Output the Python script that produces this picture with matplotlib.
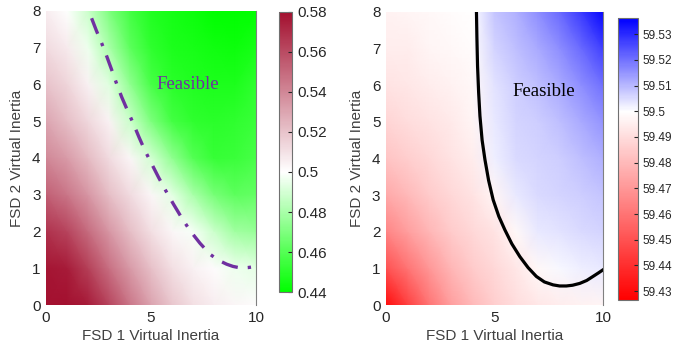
import numpy as np
import matplotlib
matplotlib.use("Agg")
import matplotlib.pyplot as plt
from matplotlib.colors import LinearSegmentedColormap

plt.rcParams['font.family'] = ['Liberation Sans', 'DejaVu Sans']

# grid of the two parameter sweeps
fsd1 = [0, 1, 2, 3, 4, 5, 6, 7, 8, 9, 10]
fsd2 = [0, 1, 2, 3, 4, 5, 6, 7, 8]

# left map: one column per FSD 1 value, rows = FSD 2 from 0 to 8
left_cols = [
    [0.580, 0.578, 0.568, 0.553, 0.540, 0.530, 0.520, 0.512, 0.506],
    [0.580, 0.576, 0.562, 0.546, 0.533, 0.522, 0.514, 0.507, 0.500],
    [0.576, 0.564, 0.549, 0.535, 0.523, 0.513, 0.505, 0.496, 0.488],
    [0.562, 0.548, 0.535, 0.522, 0.512, 0.504, 0.493, 0.480, 0.470],
    [0.546, 0.534, 0.522, 0.512, 0.503, 0.488, 0.474, 0.462, 0.456],
    [0.531, 0.521, 0.511, 0.503, 0.490, 0.470, 0.457, 0.451, 0.448],
    [0.519, 0.511, 0.503, 0.494, 0.474, 0.456, 0.450, 0.447, 0.445],
    [0.511, 0.505, 0.498, 0.480, 0.460, 0.451, 0.448, 0.446, 0.443],
    [0.506, 0.501, 0.488, 0.468, 0.453, 0.450, 0.447, 0.444, 0.440],
    [0.503, 0.496, 0.478, 0.462, 0.454, 0.451, 0.447, 0.443, 0.440],
    [0.501, 0.494, 0.476, 0.464, 0.457, 0.454, 0.451, 0.446, 0.441],
]

# right map (frequency nadir, Hz)
right_cols = [
    [59.430, 59.450, 59.465, 59.475, 59.483, 59.488, 59.492, 59.495, 59.496],
    [59.445, 59.460, 59.472, 59.480, 59.486, 59.490, 59.493, 59.495, 59.497],
    [59.460, 59.470, 59.479, 59.485, 59.489, 59.492, 59.495, 59.497, 59.498],
    [59.472, 59.479, 59.485, 59.489, 59.492, 59.494, 59.496, 59.498, 59.499],
    [59.480, 59.485, 59.489, 59.492, 59.495, 59.497, 59.498, 59.499, 59.500],
    [59.486, 59.489, 59.492, 59.497, 59.502, 59.503, 59.504, 59.506, 59.508],
    [59.490, 59.493, 59.498, 59.503, 59.505, 59.506, 59.507, 59.509, 59.511],
    [59.493, 59.498, 59.503, 59.505, 59.506, 59.507, 59.509, 59.512, 59.516],
    [59.495, 59.501, 59.504, 59.506, 59.507, 59.509, 59.512, 59.516, 59.521],
    [59.496, 59.502, 59.505, 59.507, 59.509, 59.512, 59.516, 59.521, 59.528],
    [59.497, 59.503, 59.506, 59.508, 59.511, 59.515, 59.520, 59.527, 59.535],
]

# feasibility boundaries
left_bx = [2.17, 2.40, 2.65, 2.90, 3.13, 3.36, 3.60, 3.88, 4.16, 4.43, 4.71, 5.03, 5.35,
           5.70, 6.06, 6.45, 6.86, 7.33, 7.81, 8.20, 8.60, 8.90, 9.16, 9.40, 9.63, 10.0]
left_by = [7.80, 7.46, 7.12, 6.75, 6.39, 6.02, 5.66, 5.29, 4.93, 4.56, 4.20, 3.84, 3.48,
           3.11, 2.75, 2.38, 2.02, 1.68, 1.38, 1.22, 1.11, 1.05, 1.02, 1.01, 1.02, 1.05]
right_bx = [4.17, 4.19, 4.22, 4.27, 4.33, 4.43, 4.56, 4.73, 4.94, 5.20, 5.48, 5.80, 6.17,
            6.55, 6.93, 7.30, 7.70, 8.00, 8.31, 8.60, 8.93, 9.25, 9.54, 9.80, 10.0]
right_by = [7.98, 7.30, 6.52, 5.80, 5.16, 4.50, 3.97, 3.40, 2.87, 2.42, 2.05, 1.67, 1.32,
            1.02, 0.78, 0.63, 0.55, 0.52, 0.52, 0.54, 0.59, 0.67, 0.78, 0.88, 0.96]

left_ticks = [0.44, 0.46, 0.48, 0.5, 0.52, 0.54, 0.56, 0.58]
right_ticks = [59.43, 59.44, 59.45, 59.46, 59.47, 59.48, 59.49, 59.5, 59.51, 59.52, 59.53]

lmin, lmax = 0.44, 0.58
rmin, rmax = 59.4265, 59.5362
cmap_l = LinearSegmentedColormap.from_list(
    'gw', [(0, '#00ff00'), ((0.5 - lmin) / (lmax - lmin), '#ffffff'), (1, '#a3102f')])
cmap_r = LinearSegmentedColormap.from_list(
    'rwb', [(0, '#ff0000'), ((59.5 - rmin) / (rmax - rmin), '#ffffff'), (1, '#0000ff')])

fig = plt.figure(figsize=(6.91, 3.51), dpi=100)
ax1 = fig.add_axes([0.0666, 0.131, 0.304, 0.838])
cax1 = fig.add_axes([0.4038, 0.168, 0.0188, 0.798])
ax2 = fig.add_axes([0.5586, 0.131, 0.314, 0.835])
cax2 = fig.add_axes([0.8944, 0.145, 0.029, 0.803])

tick_col = '#262626'
lab_col = '#404040'

m1 = ax1.pcolormesh(fsd1, fsd2, np.array(left_cols).T, shading='gouraud',
                    cmap=cmap_l, vmin=lmin, vmax=lmax)
ax1.plot(left_bx, left_by, color='#7030a0', lw=2.4, ls=(0, (5, 3, 1, 3)),
         solid_capstyle='round')
ax1.text(6.76, 6.0, 'Feasible', family='Liberation Serif', fontsize=13.5,
         color='#7030a0', ha='center', va='center')

m2 = ax2.pcolormesh(fsd1, fsd2, np.array(right_cols).T, shading='gouraud',
                    cmap=cmap_r, vmin=rmin, vmax=rmax)
ax2.plot(right_bx, right_by, color='black', lw=2.3, solid_joinstyle='round')
ax2.text(7.28, 5.82, 'Feasible', family='Liberation Serif', fontsize=13.5,
         color='black', ha='center', va='center')

for ax in (ax1, ax2):
    ax.set_xlim(0, 10)
    ax.set_ylim(0, 8)
    ax.set_xticks([0, 5, 10])
    ax.set_yticks(range(9))
    ax.tick_params(length=0, labelsize=11, colors=tick_col, pad=4)
    for s in ('top', 'left', 'bottom'):
        ax.spines[s].set_visible(False)
    ax.spines['right'].set_color('#808080')
    ax.spines['right'].set_linewidth(0.8)
    ax.set_xlabel('FSD 1 Virtual Inertia', fontsize=11, color=lab_col, labelpad=3)
    ax.set_ylabel('FSD 2 Virtual Inertia', fontsize=11, color=lab_col, labelpad=6)

cb1 = fig.colorbar(m1, cax=cax1)
cb1.set_ticks(left_ticks)
cb1.set_ticklabels(['0.44', '0.46', '0.48', '0.5', '0.52', '0.54', '0.56', '0.58'])
cax1.tick_params(direction='in', length=3, labelsize=11, colors=tick_col, pad=4)

cb2 = fig.colorbar(m2, cax=cax2)
cb2.set_ticks(right_ticks)
cb2.set_ticklabels([f'{t:g}' for t in right_ticks])
cax2.tick_params(direction='in', length=3, labelsize=8.5, colors=tick_col, pad=3)

for cb in (cb1, cb2):
    cb.outline.set_edgecolor('#707070')
    cb.outline.set_linewidth(0.8)

fig.savefig('out.png', dpi=100)
